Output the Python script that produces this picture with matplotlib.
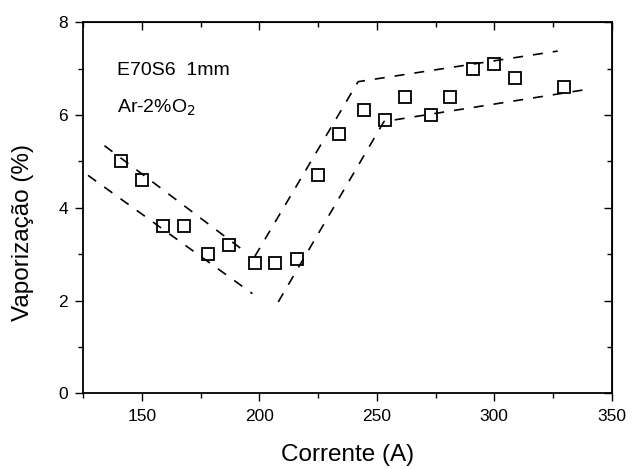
import matplotlib.pyplot as plt
from matplotlib.ticker import MultipleLocator

plt.rcParams['font.family'] = ['Liberation Sans', 'DejaVu Sans']

# measured points
corrente = [141, 150, 159, 168, 178, 187, 198, 206.5, 216, 225, 234, 244.5,
            253.5, 262, 273, 281, 291, 300, 309, 329.5]
vaporizacao = [5.0, 4.6, 3.6, 3.6, 3.0, 3.2, 2.8, 2.8, 2.9, 4.7, 5.6, 6.1,
               5.9, 6.4, 6.0, 6.4, 7.0, 7.1, 6.8, 6.6]

# dashed envelope lines
upper_left_x = [134, 194]
upper_left_y = [5.34, 3.05]
upper_right_x = [198, 242, 327]
upper_right_y = [2.95, 6.72, 7.38]
lower_left_x = [127, 197]
lower_left_y = [4.7, 2.15]
lower_right_x = [208, 253, 339]
lower_right_y = [1.97, 5.86, 6.55]

fig = plt.figure(figsize=(6.4, 4.69), dpi=100)
ax = fig.add_axes([0.1302, 0.1614, 0.8256, 0.791])

dash = dict(color='black', linestyle=(0, (6, 6)), linewidth=1.2)
for xs, ys in [(upper_left_x, upper_left_y), (upper_right_x, upper_right_y),
               (lower_left_x, lower_left_y), (lower_right_x, lower_right_y)]:
    ax.plot(xs, ys, **dash)

ax.plot(corrente, vaporizacao, linestyle='none', marker='s', markersize=8,
        markerfacecolor='none', markeredgecolor='black', markeredgewidth=1.3)

ax.set_xlim(125, 350)
ax.set_ylim(0, 8)
ax.xaxis.set_major_locator(MultipleLocator(50))
ax.xaxis.set_minor_locator(MultipleLocator(25))
ax.yaxis.set_major_locator(MultipleLocator(2))
ax.yaxis.set_minor_locator(MultipleLocator(1))

ax.tick_params(which='both', direction='out', top=False, right=False,
               labelsize=12.5, width=1)
ax.tick_params(which='major', length=6, pad=5)
ax.tick_params(which='minor', length=3.5)
sec_x = ax.secondary_xaxis('top')
sec_x.xaxis.set_major_locator(MultipleLocator(50))
sec_x.xaxis.set_minor_locator(MultipleLocator(25))
sec_x.tick_params(which='both', direction='in', labeltop=False, width=1)
sec_x.tick_params(which='major', length=6)
sec_x.tick_params(which='minor', length=3.5)
sec_y = ax.secondary_yaxis('right')
sec_y.yaxis.set_major_locator(MultipleLocator(2))
sec_y.yaxis.set_minor_locator(MultipleLocator(1))
sec_y.tick_params(which='both', direction='in', labelright=False, width=1)
sec_y.tick_params(which='major', length=6)
sec_y.tick_params(which='minor', length=3.5)

for s in ax.spines.values():
    s.set_linewidth(1.3)

ax.set_xlabel('Corrente (A)', fontsize=17.5)
ax.set_ylabel('Vaporização (%)', fontsize=17.5)
ax.xaxis.set_label_coords(0.5, -0.166)
ax.xaxis.label.set_va('center')
ax.yaxis.set_label_coords(-0.1136, 0.433)
ax.yaxis.label.set_va('center')

ax.text(0.063, 0.871, 'E70S6  1mm', transform=ax.transAxes, fontsize=14,
        va='center')
ax.text(0.063, 0.77, 'Ar-2%O$_2$', transform=ax.transAxes, fontsize=14,
        va='center')

fig.savefig('out.png', dpi=100)
